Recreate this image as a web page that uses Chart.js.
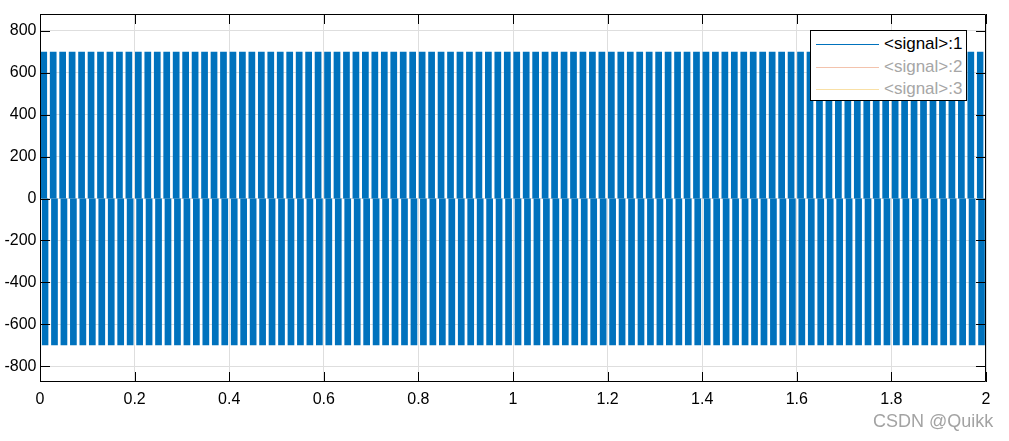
<!DOCTYPE html>
<html>
<head>
<meta charset="utf-8">
<script src="https://cdn.jsdelivr.net/npm/chart.js"></script>
<style>
  body { margin: 0; padding: 0; background: #fff; }
  #wrap { position: relative; width: 1009px; height: 441px; }
  #legend {
    position: absolute; left: 810px; top: 30px; width: 155px; height: 69px;
    border: 1px solid #000; background: #fff;
    font: 17px "Liberation Sans", Arial, sans-serif;
  }
  .item { position: absolute; left: 5px; height: 20px; }
  .item .ln { position: absolute; left: 0; top: 10px; width: 63px; height: 1px; }
  .item .tx { position: absolute; left: 68px; top: 0px; white-space: nowrap; line-height: 20px; }
  #mark {
    position: absolute; left: 873px; top: 411px;
    font: 18px "Liberation Sans", Arial, sans-serif; color: #a3a3a3; white-space: nowrap;
  }
</style>
</head>
<body>
<div id="wrap">
  <canvas id="scope" width="1009" height="441"></canvas>
  <div id="legend"></div>
  <div id="mark">CSDN @Quikk</div>
</div>
<script>
  // one 50 Hz cycle (seconds inside the cycle)
  const cyclePeriod = 0.02;
  const cycleCount = 100;
  const upperPulse = [0.0008, 0.0150];   // start, end of the +700 block
  const lowerPulse = [0.0035, 0.0177];   // start, end of the -700 block
  const upperLevel = 700;
  const lowerLevel = -700;

  const xTicks = [0, 0.2, 0.4, 0.6, 0.8, 1, 1.2, 1.4, 1.6, 1.8, 2];
  const xTickLabels = ['0', '0.2', '0.4', '0.6', '0.8', '1', '1.2', '1.4', '1.6', '1.8', '2'];
  const yTicks = [-800, -600, -400, -200, 0, 200, 400, 600, 800];
  const yTickLabels = ['-800', '-600', '-400', '-200', '0', '200', '400', '600', '800'];

  const legendNames = ['<signal>:1', '<signal>:2', '<signal>:3'];
  const legendLineColors = ['#0072BD', '#f3c3ad', '#f9e0a6'];
  const legendTextColors = ['#000000', '#a6a6a6', '#a6a6a6'];

  // repeat the measured cycle over the record
  function pulseTrain(pulse, level) {
    const pts = [];
    for (let k = 0; k < cycleCount; k++) {
      const s = k * cyclePeriod + pulse[0];
      const e = Math.min(k * cyclePeriod + pulse[1], 2);
      pts.push({ x: s, y: 0 }, { x: s, y: level }, { x: e, y: level }, { x: e, y: 0 });
    }
    return pts;
  }

  const blue = '#0072BD';

  const frame = {
    id: 'frame',
    afterDraw(chart) {
      const { ctx, chartArea: a, scales: { x, y } } = chart;
      ctx.save();
      ctx.strokeStyle = '#000';
      ctx.lineWidth = 1;
      ctx.beginPath();
      ctx.rect(a.left + 0.5, a.top + 0.5, a.right - a.left - 1, a.bottom - a.top - 1);
      const tl = 10;
      xTicks.forEach(v => {
        const px = Math.round(x.getPixelForValue(v)) + 0.5;
        ctx.moveTo(px, a.bottom); ctx.lineTo(px, a.bottom - tl);
        ctx.moveTo(px, a.top); ctx.lineTo(px, a.top + tl);
      });
      yTicks.forEach(v => {
        const py = Math.round(y.getPixelForValue(v)) + 0.5;
        ctx.moveTo(a.left, py); ctx.lineTo(a.left + tl, py);
        ctx.moveTo(a.right, py); ctx.lineTo(a.right - tl, py);
      });
      ctx.stroke();
      ctx.restore();
    }
  };

  new Chart(document.getElementById('scope').getContext('2d'), {
    type: 'line',
    data: {
      datasets: [
        { data: pulseTrain(upperPulse, upperLevel), borderColor: 'transparent', backgroundColor: blue, fill: 'origin', pointRadius: 0, tension: 0 },
        { data: pulseTrain(lowerPulse, lowerLevel), borderColor: 'transparent', backgroundColor: blue, fill: 'origin', pointRadius: 0, tension: 0 }
      ]
    },
    options: {
      responsive: false,
      animation: false,
      events: [],
      layout: { padding: { top: 14, right: 23, left: 0, bottom: 0 } },
      plugins: { legend: { display: false }, tooltip: { enabled: false } },
      scales: {
        x: {
          type: 'linear', min: 0, max: 2,
          afterFit(s) { s.height = 59; },
          afterBuildTicks(s) { s.ticks = xTicks.map(v => ({ value: v })); },
          grid: { color: '#dedede', drawTicks: false },
          border: { display: false },
          ticks: {
            padding: 8, color: '#000', maxRotation: 0, autoSkip: false,
            font: { family: '"Liberation Sans", Arial, sans-serif', size: 16 },
            callback: (v, i) => xTickLabels[i]
          }
        },
        y: {
          type: 'linear', min: -875, max: 880,
          afterFit(s) { s.width = 40; },
          afterBuildTicks(s) { s.ticks = yTicks.map(v => ({ value: v })); },
          grid: { color: '#dedede', drawTicks: false },
          border: { display: false },
          ticks: {
            padding: 3.5, color: '#000', autoSkip: false,
            font: { family: '"Liberation Sans", Arial, sans-serif', size: 16 },
            callback: (v, i) => yTickLabels[i]
          }
        }
      }
    },
    plugins: [frame]
  });

  const lg = document.getElementById('legend');
  legendNames.forEach((name, i) => {
    const it = document.createElement('div');
    it.className = 'item';
    it.style.top = (3 + i * 22.5) + 'px';
    const ln = document.createElement('div');
    ln.className = 'ln';
    ln.style.background = legendLineColors[i];
    const tx = document.createElement('div');
    tx.className = 'tx';
    tx.style.color = legendTextColors[i];
    tx.textContent = name;
    it.appendChild(ln); it.appendChild(tx);
    lg.appendChild(it);
  });
</script>
</body>
</html>
